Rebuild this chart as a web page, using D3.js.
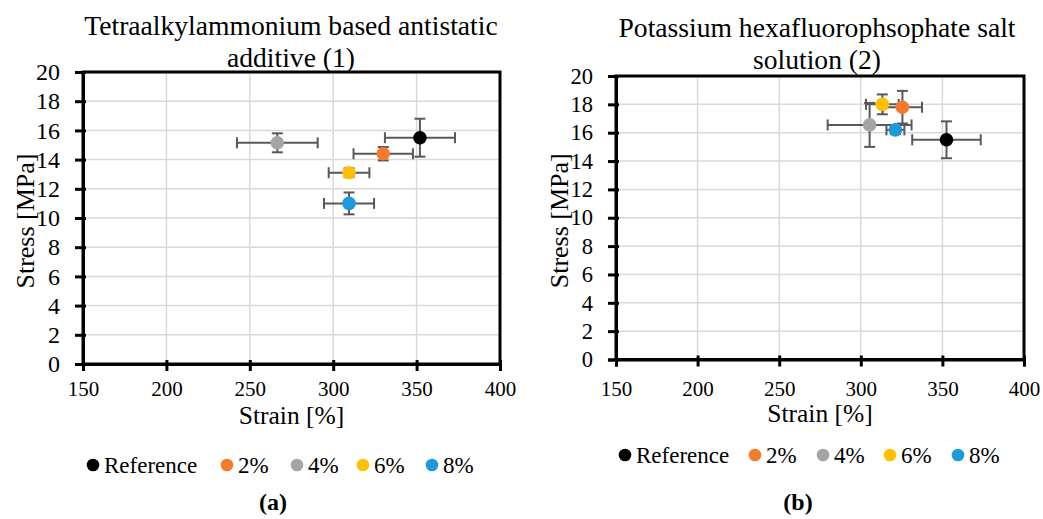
<!DOCTYPE html>
<html>
<head>
<meta charset="utf-8">
<script src="https://cdn.jsdelivr.net/npm/d3@7"></script>
<style>
  html, body { margin: 0; padding: 0; background: #ffffff; }
  svg { display: block; }
  svg text { font-family: "Liberation Serif", "Times New Roman", serif; }
</style>
</head>
<body>
<svg id="chart" width="1043" height="519"></svg>
<script>
// ---- Data ----
const seriesNames = ["Reference", "2%", "4%", "6%", "8%"];
const seriesColors = ["#000000", "#F47B2B", "#A5A5A5", "#FFC000", "#1E9ADB"];

// Panel (a): Tetraalkylammonium based antistatic additive (1)
const strainA    = [352, 330, 266.5, 309.5, 309.5];
const strainErrA = [21, 17.8, 24.2, 12.2, 15];
const stressA    = [15.5, 14.4, 15.15, 13.1, 11.0];
const stressErrA = [1.3, 0.46, 0.65, 0.3, 0.75];

// Panel (b): Potassium hexafluorophsophate salt solution (2)
const strainB    = [352.5, 325.5, 305.4, 313.2, 321.2];
const strainErrB = [21, 12, 25.7, 10, 5.5];
const stressB    = [15.5, 17.8, 16.55, 18.0, 16.2];
const stressErrB = [1.3, 1.15, 1.55, 0.7, 0.3];

const xTicks = [150, 200, 250, 300, 350, 400];
const yTicks = [0, 2, 4, 6, 8, 10, 12, 14, 16, 18, 20];

const titleA = ["Tetraalkylammonium based antistatic", "additive (1)"];
const titleB = ["Potassium hexafluorophsophate salt", "solution (2)"];

const FONT = "'Liberation Serif', 'Times New Roman', serif";
const svg = d3.select("#chart");

function drawPanel(cfg) {
  const g = svg.append("g");
  const x = d3.scaleLinear().domain([150, 400]).range([cfg.left, cfg.right]);
  const y = d3.scaleLinear().domain([0, 20]).range([cfg.bottom, cfg.top]);

  // gridlines
  g.append("g").selectAll("line").data(xTicks.slice(1, -1)).join("line")
    .attr("x1", d => x(d)).attr("x2", d => x(d))
    .attr("y1", cfg.top).attr("y2", cfg.bottom)
    .attr("stroke", "#d9d9d9").attr("stroke-width", 1.5);
  g.append("g").selectAll("line").data(yTicks.slice(1, -1)).join("line")
    .attr("y1", d => y(d)).attr("y2", d => y(d))
    .attr("x1", cfg.left).attr("x2", cfg.right)
    .attr("stroke", "#d9d9d9").attr("stroke-width", 1.5);

  // frame
  g.append("rect")
    .attr("x", cfg.left).attr("y", cfg.top)
    .attr("width", cfg.right - cfg.left).attr("height", cfg.bottom - cfg.top)
    .attr("fill", "none").attr("stroke", "#000").attr("stroke-width", 3);

  // x axis
  const xAxis = g.append("g")
    .attr("transform", `translate(0,${cfg.bottom})`)
    .call(d3.axisBottom(x).tickValues(xTicks).tickSize(7).tickPadding(cfg.xPad).tickFormat(d3.format("d")));
  xAxis.attr("font-family", null);
  xAxis.select(".domain").attr("stroke", "#000").attr("stroke-width", 3);
  xAxis.selectAll(".tick line").attr("y1", -4).attr("y2", 7).attr("stroke", "#000").attr("stroke-width", 3);
  xAxis.selectAll(".tick text")
    .style("font-family", FONT).attr("font-size", cfg.xTickSize)
    .attr("fill", "#000").attr("dy", "0.71em");

  // y axis
  const yAxis = g.append("g")
    .attr("transform", `translate(${cfg.left},0)`)
    .call(d3.axisLeft(y).tickValues(yTicks).tickSize(8).tickPadding(cfg.yPad).tickFormat(d3.format("d")));
  yAxis.attr("font-family", null);
  yAxis.select(".domain").attr("stroke", "#000").attr("stroke-width", 3);
  yAxis.selectAll(".tick line").attr("x1", -8).attr("x2", 3).attr("stroke", "#000").attr("stroke-width", 3);
  yAxis.selectAll(".tick text")
    .style("font-family", FONT).attr("font-size", cfg.yTickSize)
    .attr("fill", "#000");

  // axis titles
  g.append("text")
    .attr("x", (cfg.left + cfg.right) / 2).attr("y", cfg.xLabelY)
    .attr("text-anchor", "middle").attr("font-size", 25.5).attr("fill", "#000")
    .style("font-family", FONT)
    .text("Strain [%]");
  g.append("text")
    .attr("transform", `translate(${cfg.yLabelX},${(cfg.top + cfg.bottom) / 2 + 3}) rotate(-90)`)
    .attr("text-anchor", "middle").attr("font-size", 26).attr("fill", "#000")
    .style("font-family", FONT)
    .text("Stress [MPa]");

  // chart title
  cfg.title.forEach((t, i) => {
    g.append("text")
      .attr("x", cfg.titleX).attr("y", cfg.titleY[i])
      .attr("text-anchor", "middle").attr("font-size", 27.6).attr("fill", "#000")
      .style("font-family", FONT)
      .text(t);
  });

  // data
  const pts = seriesNames.map((n, i) => ({
    name: n, color: seriesColors[i],
    sx: cfg.strain[i], sxe: cfg.strainErr[i],
    sy: cfg.stress[i], sye: cfg.stressErr[i]
  }));

  const errColor = "#595959";
  const cap = 5.5;
  const eb = g.append("g").attr("stroke", errColor).attr("stroke-width", 2).attr("fill", "none");
  pts.forEach(p => {
    eb.append("line").attr("x1", x(p.sx - p.sxe)).attr("x2", x(p.sx + p.sxe))
      .attr("y1", y(p.sy)).attr("y2", y(p.sy));
    [p.sx - p.sxe, p.sx + p.sxe].forEach(v => {
      eb.append("line").attr("x1", x(v)).attr("x2", x(v))
        .attr("y1", y(p.sy) - cap).attr("y2", y(p.sy) + cap);
    });
    eb.append("line").attr("x1", x(p.sx)).attr("x2", x(p.sx))
      .attr("y1", y(p.sy - p.sye)).attr("y2", y(p.sy + p.sye));
    [p.sy - p.sye, p.sy + p.sye].forEach(v => {
      eb.append("line").attr("x1", x(p.sx) - cap).attr("x2", x(p.sx) + cap)
        .attr("y1", y(v)).attr("y2", y(v));
    });
  });

  g.append("g").selectAll("circle").data(pts).join("circle")
    .attr("cx", d => x(d.sx)).attr("cy", d => y(d.sy))
    .attr("r", 6.8).attr("fill", d => d.color);

  // legend
  const lg = g.append("g");
  seriesNames.forEach((n, i) => {
    lg.append("circle").attr("cx", cfg.legendDots[i]).attr("cy", cfg.legendY)
      .attr("r", 6.3).attr("fill", seriesColors[i]);
    lg.append("text").attr("x", cfg.legendDots[i] + 11).attr("y", cfg.legendY + 8)
      .attr("font-size", 23).attr("fill", "#000").style("font-family", FONT).text(n);
  });

  // panel label
  g.append("text").attr("x", cfg.labelX).attr("y", cfg.labelY)
    .attr("text-anchor", "middle").attr("font-size", 24).attr("font-weight", "bold")
    .attr("fill", "#000").style("font-family", FONT).text(cfg.label);
}

drawPanel({
  left: 83, right: 500, top: 72, bottom: 364,
  strain: strainA, strainErr: strainErrA, stress: stressA, stressErr: stressErrA,
  title: titleA, titleX: 291, titleY: [35, 67],
  xTickSize: 21, yTickSize: 24, xPad: 10, yPad: 15,
  xLabelY: 424, yLabelX: 34,
  legendDots: [93, 227, 297, 363, 432], legendY: 465,
  label: "(a)", labelX: 273, labelY: 510
});

drawPanel({
  left: 616, right: 1024, top: 76, bottom: 359.5,
  strain: strainB, strainErr: strainErrB, stress: stressB, stressErr: stressErrB,
  title: titleB, titleX: 817, titleY: [37, 69],
  xTickSize: 21, yTickSize: 22.5, xPad: 15, yPad: 15,
  xLabelY: 422, yLabelX: 568,
  legendDots: [625, 755, 823, 890, 958], legendY: 455,
  label: "(b)", labelX: 798, labelY: 510
});
</script>
</body>
</html>
